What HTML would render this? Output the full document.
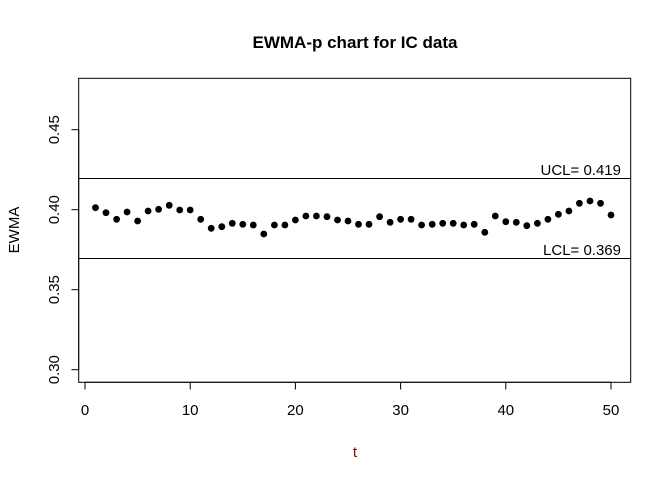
<!DOCTYPE html>
<html><head><meta charset="utf-8"><style>body{margin:0;background:#fff}svg{display:block;font-family:"Liberation Sans",Arial,sans-serif}</style></head><body>
<svg width="672" height="480" xmlns="http://www.w3.org/2000/svg">
<rect width="672" height="480" fill="#fff"/>
<text x="355" y="48" text-anchor="middle" font-weight="bold" font-size="17">EWMA-p chart for IC data</text>
<rect x="78.7" y="78.3" width="552" height="304" fill="none" stroke="#000" stroke-width="1"/>
<g stroke="#000" stroke-width="1">
<line x1="78.7" y1="178.5" x2="630.7" y2="178.5"/>
<line x1="78.7" y1="258.5" x2="630.7" y2="258.5"/>
<line x1="85" y1="382.3" x2="611" y2="382.3"/>
<line x1="85" y1="382.3" x2="85" y2="389.5"/><line x1="190.2" y1="382.3" x2="190.2" y2="389.5"/><line x1="295.4" y1="382.3" x2="295.4" y2="389.5"/><line x1="400.6" y1="382.3" x2="400.6" y2="389.5"/><line x1="505.8" y1="382.3" x2="505.8" y2="389.5"/><line x1="611" y1="382.3" x2="611" y2="389.5"/>
<line x1="78.7" y1="129.7" x2="78.7" y2="369.7"/>
<line x1="71.5" y1="129.7" x2="78.7" y2="129.7"/><line x1="71.5" y1="209.7" x2="78.7" y2="209.7"/><line x1="71.5" y1="289.7" x2="78.7" y2="289.7"/><line x1="71.5" y1="369.7" x2="78.7" y2="369.7"/>
</g>
<g font-size="15" text-anchor="middle">
<text x="85" y="415">0</text><text x="190.2" y="415">10</text><text x="295.4" y="415">20</text><text x="400.6" y="415">30</text><text x="505.8" y="415">40</text><text x="611" y="415">50</text>
<text transform="translate(59,129.7) rotate(-90)">0.45</text>
<text transform="translate(59,209.7) rotate(-90)">0.40</text>
<text transform="translate(59,289.7) rotate(-90)">0.35</text>
<text transform="translate(59,369.7) rotate(-90)">0.30</text>
<text transform="translate(19,230) rotate(-90)">EWMA</text>
<text x="355" y="457" fill="#8b0000">t</text>
</g>
<g font-size="15" text-anchor="end">
<text x="621" y="175">UCL= 0.419</text>
<text x="621" y="255">LCL= 0.369</text>
</g>
<g fill="#000">
<circle cx="95.5" cy="207.7" r="3.4"/><circle cx="106.0" cy="212.7" r="3.4"/><circle cx="116.6" cy="219.3" r="3.4"/><circle cx="127.1" cy="212" r="3.4"/><circle cx="137.6" cy="221" r="3.4"/>
<circle cx="148.1" cy="211" r="3.4"/><circle cx="158.6" cy="209.3" r="3.4"/><circle cx="169.2" cy="205.3" r="3.4"/><circle cx="179.7" cy="210" r="3.4"/><circle cx="190.2" cy="210" r="3.4"/>
<circle cx="200.7" cy="219.3" r="3.4"/><circle cx="211.2" cy="228.3" r="3.4"/><circle cx="221.8" cy="226.7" r="3.4"/><circle cx="232.3" cy="223.3" r="3.4"/><circle cx="242.8" cy="224.3" r="3.4"/>
<circle cx="253.3" cy="225" r="3.4"/><circle cx="263.8" cy="234" r="3.4"/><circle cx="274.4" cy="225" r="3.4"/><circle cx="284.9" cy="225" r="3.4"/><circle cx="295.4" cy="220" r="3.4"/>
<circle cx="305.9" cy="216" r="3.4"/><circle cx="316.4" cy="216" r="3.4"/><circle cx="327.0" cy="216.7" r="3.4"/><circle cx="337.5" cy="220" r="3.4"/><circle cx="348.0" cy="221" r="3.4"/>
<circle cx="358.5" cy="224.3" r="3.4"/><circle cx="369.0" cy="224.3" r="3.4"/><circle cx="379.6" cy="216.7" r="3.4"/><circle cx="390.1" cy="222.3" r="3.4"/><circle cx="400.6" cy="219.3" r="3.4"/>
<circle cx="411.1" cy="219.3" r="3.4"/><circle cx="421.6" cy="225" r="3.4"/><circle cx="432.2" cy="224.3" r="3.4"/><circle cx="442.7" cy="223.3" r="3.4"/><circle cx="453.2" cy="223.3" r="3.4"/>
<circle cx="463.7" cy="225" r="3.4"/><circle cx="474.2" cy="224.3" r="3.4"/><circle cx="484.8" cy="232.3" r="3.4"/><circle cx="495.3" cy="216" r="3.4"/><circle cx="505.8" cy="221.7" r="3.4"/>
<circle cx="516.3" cy="222.3" r="3.4"/><circle cx="526.8" cy="225.7" r="3.4"/><circle cx="537.4" cy="223.3" r="3.4"/><circle cx="547.9" cy="219.3" r="3.4"/><circle cx="558.4" cy="214.3" r="3.4"/>
<circle cx="568.9" cy="211" r="3.4"/><circle cx="579.4" cy="203.3" r="3.4"/><circle cx="590.0" cy="201" r="3.4"/><circle cx="600.5" cy="203.3" r="3.4"/><circle cx="611.0" cy="215" r="3.4"/>
</g>
</svg>
</body></html>
